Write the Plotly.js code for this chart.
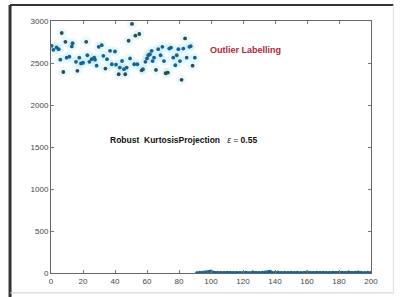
<!DOCTYPE html>
<html><head><meta charset="utf-8">
<script src="https://cdn.plot.ly/plotly-3.0.1.min.js"></script>
<style>html,body{margin:0;padding:0;background:#fff}#c{width:402px;height:297px}</style>
</head><body><div id="c"></div>
<script>
// Inlier observations (index, value)
const inX = [0.4,1.5,3.5,4.8,5.8,9.8,11.5,13,13.5,15.6,17.7,18.8,20,22.7,24,25.4,27,27.5,28.5,29.8,31.7,32.7,35,36.9,38,40,40.6,43,44.4,45.6,47.3,49.4,52,54,57.5,59,60,60.8,61.8,62.9,63.5,64.4,67,68.5,69.6,70.6,73.9,75,76.4,77.7,78.6,79.6,80.6,82.7,84.8,86.5,87.3,89.9];
const inY = [2705,2657,2686,2665,2540,2563,2575,2697,2735,2514,2563,2495,2503,2592,2514,2545,2563,2540,2468,2692,2712,2585,2545,2645,2485,2637,2480,2446,2524,2426,2446,2555,2485,2485,2426,2514,2555,2592,2604,2645,2523,2563,2665,2592,2692,2523,2672,2684,2563,2473,2592,2665,2523,2672,2563,2692,2700,2563];
// Outlying observations (index, value)
const outX = [6.7,7.7,9,16.5,22,34,42.3,46.4,48.5,50.6,52.7,55.2,56.7,65.6,71.7,73,81.6,83.8,88.5];
const outY = [2857,2393,2752,2407,2752,2434,2366,2366,2765,2965,2825,2845,2413,2417,2378,2386,2300,2792,2468];
// Remaining observations (index, value)
const lowX = [91,93,95,97,99,100,102,104,106,108,110,112,114,116,118,120,122,124,126,128,130,132,134,136,137,138,140,142,144,146,148,150,152,154,156,158,160,162,164,166,168,170,172,174,176,178,180,182,184,186,188,190,192,194,196,198,200];
const lowY = [4,8,6,10,16,24,8,5,6,5,8,6,4,7,5,6,10,4,13,6,5,8,10,14,20,9,8,11,6,8,5,9,6,8,4,7,11,6,5,8,6,10,7,5,9,6,9,8,6,11,5,8,12,6,4,8,6];

const xTicks = [0,20,40,60,80,100,120,140,160,180,200];
const yTicks = [0,500,1000,1500,2000,2500,3000];

const tickFont = {family:'Liberation Sans, Arial, sans-serif', size:8, color:'#444'};
const allX = inX.concat(outX), allY = inY.concat(outY);

const traces = [
  {x: allX, y: allY, mode:'markers', type:'scatter', hoverinfo:'skip',
   marker:{size:10, color:'rgba(170,235,245,0.28)', line:{width:0}}},
  {x: lowX, y: lowY, mode:'lines+markers', type:'scatter',
   line:{color:'#2b7fc0', width:2.5}, marker:{size:3, color:'#1c5d8f'}},
  {x: inX, y: inY, mode:'markers', type:'scatter',
   marker:{size:3.8, color:'#1f5f8e', line:{width:0}}},
  {x: outX, y: outY, mode:'markers', type:'scatter',
   marker:{size:3.8, color:'#39484c', line:{width:0}}}
];

const layout = {
  width:402, height:297,
  margin:{l:51, r:31, t:21, b:24, pad:0},
  paper_bgcolor:'#ffffff', plot_bgcolor:'#ffffff',
  showlegend:false,
  xaxis:{range:[0,200], tickvals:xTicks, ticktext:xTicks.map(String), ticks:'inside', ticklen:3,
    tickcolor:'#777', showline:true, linecolor:'#666', linewidth:1, mirror:'allticks', showgrid:false,
    zeroline:false, tickfont:tickFont, fixedrange:true},
  yaxis:{range:[0,3000], tickvals:yTicks, ticktext:yTicks.map(String), ticks:'inside', ticklen:3,
    tickcolor:'#777', showline:true, linecolor:'#666', linewidth:1, mirror:'allticks', showgrid:false,
    zeroline:false, tickfont:tickFont, fixedrange:true},
  annotations:[
    {x:98, y:2660, xref:'x', yref:'y', xanchor:'left', yanchor:'middle', showarrow:false,
     text:'<b>Outlier Labelling</b>', font:{family:'Liberation Sans, Arial, sans-serif', size:9, color:'#a52a3c'}},
    {x:35.5, y:1580, xref:'x', yref:'y', xanchor:'left', yanchor:'middle', showarrow:false,
     text:'<b>Robust  KurtosisProjection   </b><i>ε</i> = <b>0.55</b>', font:{family:'Liberation Sans, Arial, sans-serif', size:8.5, color:'#111'}}
  ],
  shapes:[
    {type:'line', xref:'paper', yref:'paper', x0:-0.128, x1:-0.128, y0:-0.095, y1:1.063, line:{color:'#333', width:3}},
    {type:'line', xref:'paper', yref:'paper', x0:-0.128, x1:1.07, y0:1.063, y1:1.063, line:{color:'#333', width:2}},
    {type:'line', xref:'paper', yref:'paper', x0:1.07, x1:1.07, y0:-0.079, y1:1.063, line:{color:'#ddd', width:1}},
    {type:'line', xref:'paper', yref:'paper', x0:-0.128, x1:1.07, y0:-0.079, y1:-0.079, line:{color:'#ccc', width:1}}
  ]
};
Plotly.newPlot('c', traces, layout, {displayModeBar:false, staticPlot:true});
</script></body></html>
